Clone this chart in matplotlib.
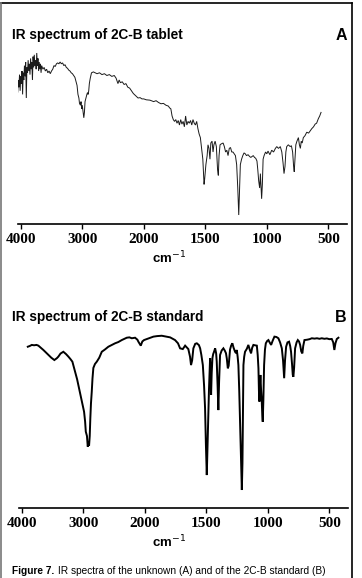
import numpy as np
import matplotlib
matplotlib.use('Agg')
import matplotlib.pyplot as plt
from matplotlib.lines import Line2D

# spectrum A: 2C-B tablet (wavenumber, %T)
wn_a = [4076, 4060, 4050, 4040, 4030, 4020, 4010, 4000, 3990, 3980,
        3970, 3960, 3950, 3940, 3930, 3920, 3910, 3900, 3890, 3880,
        3870, 3860, 3850, 3840, 3830, 3820, 3810, 3800, 3790, 3780,
        3770, 3760, 3750, 3740, 3730, 3720, 3710, 3700, 3690, 3680,
        3670, 3660, 3640, 3620, 3600, 3580, 3560, 3540, 3520, 3500,
        3480, 3460, 3440, 3420, 3400, 3380, 3360, 3340, 3320, 3300,
        3280, 3260, 3240, 3220, 3200, 3180, 3160, 3140, 3120, 3100,
        3085, 3070, 3055, 3045, 3030, 3020, 3010, 3000, 2990, 2975,
        2965, 2955, 2940, 2925, 2915, 2905, 2895, 2885, 2870, 2850,
        2820, 2790, 2760, 2720, 2680, 2640, 2600, 2560, 2520, 2480,
        2450, 2420, 2400, 2380, 2350, 2320, 2290, 2260, 2230, 2200,
        2170, 2140, 2110, 2093, 2060, 2030, 2000, 1980, 1950, 1920,
        1900, 1880, 1860, 1840, 1820, 1800, 1790, 1780, 1770, 1760,
        1750, 1740, 1730, 1720, 1710, 1700, 1690, 1680, 1670, 1660,
        1650, 1640, 1630, 1620, 1610, 1600, 1590, 1580, 1570, 1560,
        1550, 1540, 1530, 1520, 1510, 1505, 1495, 1485, 1478, 1470,
        1462, 1455, 1445, 1437, 1430, 1420, 1410, 1400, 1394, 1388,
        1380, 1370, 1355, 1345, 1335, 1325, 1315, 1305, 1295, 1285,
        1275, 1265, 1255, 1245, 1236, 1228, 1222, 1215, 1205, 1195,
        1185, 1175, 1165, 1152, 1140, 1130, 1120, 1110, 1100, 1090,
        1080, 1073, 1066, 1058, 1052, 1042, 1036, 1030, 1022, 1010,
        1000, 990, 975, 960, 945, 930, 919, 905, 890, 878,
        868, 860, 852, 845, 838, 825, 810, 800, 790, 782,
        777, 771, 764, 755, 743, 735, 727, 720, 712, 703,
        690, 675, 660, 645, 634, 620, 607, 595, 581, 570, 559]
t_a = [75, 79, 73, 80, 76, 83, 74, 82, 78, 85,
       72, 84, 80, 88, 82, 90, 70, 87, 84, 91,
       85, 89, 83, 92, 86, 90, 80, 93, 87, 94,
       88, 91, 86, 95, 88, 92, 85, 90, 86, 89,
       84, 88, 86, 87, 85, 86, 84, 85, 83.5, 85,
       86, 88, 87.5, 89, 89.5, 89, 90, 89, 89.5, 88,
       88.5, 87, 86.5, 85.5, 85, 84, 83.5, 82.5, 81.5, 79,
       77, 72, 70, 67, 66, 68, 64, 66, 63, 59,
       62, 68, 70, 72, 73, 72, 74, 78, 81, 84,
       84.5, 84, 83.5, 84, 83, 83.5, 82.5, 83, 82, 82.5,
       81, 78, 80, 78.5, 79, 77.5, 78, 76, 75.5, 74,
       72.5, 71.5, 70.5, 70, 70.2, 69.5, 69.5, 69, 68.8, 68,
       68.5, 67.5, 66.8, 67, 66, 65.5, 64.5, 64, 60, 58,
       57, 58, 56, 57.5, 55, 58, 55.5, 57, 54, 60,
       55, 57, 56, 57.5, 55, 58, 56, 55, 57, 53,
       50, 48, 42, 36, 22, 25, 33, 38, 44, 42,
       36, 45, 46, 40, 44, 46, 43, 30, 27, 38,
       44, 44.5, 45, 43, 40, 41, 38, 42, 42.5, 40,
       40, 39, 38, 33, 20, 5, 18, 33, 36, 38,
       39.5, 39, 38, 38.5, 37.5, 37, 37.5, 38, 37, 36.5,
       35, 30, 24, 20, 28, 14, 22, 36, 38, 40,
       39, 40.5, 38.5, 41, 40, 42, 43, 42, 43, 40,
       34, 28, 32, 40, 43, 44, 43, 43.5, 40, 32,
       29, 36, 44, 46, 48, 44, 42, 46, 45, 48,
       49, 51, 50.5, 52, 53, 54, 55.5, 56, 58.5, 60, 62]

# spectrum B: 2C-B standard
wn_b = [3902, 3870, 3837, 3800, 3760, 3730, 3690, 3649, 3610, 3567,
        3520, 3470, 3430, 3405, 3370, 3324, 3280, 3242, 3210, 3177,
        3133, 3100, 3080, 3050, 3024, 3000, 2987, 2970, 2959, 2940,
        2927, 2915, 2906, 2895, 2885, 2875, 2862, 2850, 2836, 2810,
        2780, 2740, 2699, 2650, 2592, 2540, 2483, 2430, 2374, 2330,
        2293, 2250, 2211, 2158, 2120, 2104, 2080, 2065, 2040, 2012,
        1970, 1930, 1900, 1862, 1830, 1794, 1754, 1730, 1713, 1691,
        1672, 1646, 1632, 1624, 1615, 1605, 1590, 1577, 1560, 1550,
        1540, 1528, 1518, 1510, 1503, 1496, 1490, 1483, 1478, 1475,
        1469, 1465, 1461, 1456, 1450, 1444, 1437, 1428, 1420, 1415,
        1408, 1402, 1396, 1388, 1375, 1361, 1350, 1340, 1333, 1325,
        1318, 1312, 1307, 1298, 1288, 1278, 1266, 1258, 1252, 1245,
        1239, 1232, 1225, 1218, 1211, 1206, 1203, 1198, 1192, 1185,
        1170, 1158, 1147, 1136, 1127, 1117, 1105, 1089, 1082, 1076,
        1072, 1068, 1064, 1060, 1055, 1049, 1045, 1041, 1036, 1030,
        1023, 1016, 1005, 995, 985, 973, 960, 946, 930, 914,
        900, 886, 876, 867, 860, 851, 840, 827, 818, 811,
        803, 797, 792, 786, 778, 766, 756, 746, 737, 728,
        719, 712, 702, 680, 660, 642, 620, 600, 580, 561,
        540, 520, 500, 480, 468, 459, 450, 439, 426]
t_b = [89.6, 90, 90.6, 90.4, 90.6, 90.2, 89, 87.8, 86.5, 85,
       83.5, 82.2, 83.2, 84.1, 85.8, 86.8, 85.5, 84.1, 82.8, 81.3,
       75.7, 71.5, 68.3, 63.5, 59.1, 55.5, 53.5, 48, 42.4, 40,
       34.1, 37, 34.5, 40, 50, 58, 64.6, 72, 77.8, 80,
       81.3, 83.5, 86.8, 88, 89.6, 90.5, 91.5, 92.2, 93.3, 94,
       94.6, 94.8, 94.3, 94.6, 93.5, 92.4, 91, 90.2, 92.5, 93.3,
       94.2, 95.2, 95.5, 95.7, 95.3, 94.8, 93.3, 91.5, 88.7, 88.3,
       90.2, 88.3, 84, 79.4, 82, 88.7, 91.2, 91.5, 90.5, 88.7,
       85, 79.4, 68, 55.6, 35, 18.3, 35, 55.6, 66, 72.2,
       83.3, 76, 62.8, 75, 83.3, 85.5, 86.8, 88.7, 86, 81.3,
       68, 54.4, 70, 85, 87.5, 88.7, 87.5, 86, 83, 77.6,
       79, 84, 88, 90.2, 91.5, 89, 86.8, 86, 87.8, 84,
       79.4, 65, 46.1, 25, 10, 25, 46.1, 79.4, 84, 86.8,
       88.5, 90.6, 88, 85.9, 89, 90.6, 90.4, 90.2, 85, 77.6,
       65, 59.1, 68, 73.9, 66, 59.1, 52, 47.9, 60, 79.4,
       88, 91.5, 92.8, 93.3, 92, 90.6, 93, 95.2, 95, 94.3,
       92, 88.7, 82, 72.1, 82, 89.6, 92, 92.4, 90, 86.8,
       80, 74, 72.9, 78, 88.7, 92, 93.3, 92.5, 90.6, 87,
       85.9, 90, 93.3, 93.5, 93.8, 94.3, 94.1, 94.3, 94, 94.3,
       94, 94.2, 93.8, 93.9, 92, 87.8, 91.5, 93.9, 94.6]

tick_wn = [4000, 3000, 2000, 1500, 1000, 500]
tick_labels = ['4000', '3000', '2000', '1500', '1000', '500']

W, H = 362, 578
fig = plt.figure(figsize=(W / 100, H / 100), dpi=100)


def fx(px):
    return px / W


def fy(py):
    return 1 - py / H


# IR charts: the range above 2000 cm-1 is drawn at half scale
def fwd(w):
    w = np.asarray(w, float)
    return np.where(w > 2000, 2000 + (w - 2000) / 2, w)


def inv(x):
    x = np.asarray(x, float)
    return np.where(x > 2000, 2000 + 2 * (x - 2000), x)


def panel(left_px, bottom_px, wn, tr, lw, color, title, letter, title_y):
    ax = fig.add_axes([fx(left_px), fy(bottom_px), 328.7 / W, 180 / H])
    ax.set_xscale('function', functions=(fwd, inv))
    ax.plot(wn, tr, color=color, lw=lw, solid_joinstyle='miter')
    ax.set_xlim(4040, 348)
    ax.set_ylim(0, 100)
    for s in ('top', 'left', 'right'):
        ax.spines[s].set_visible(False)
    ax.spines['bottom'].set_linewidth(1.2)
    ax.set_yticks([])
    ax.set_xticks(tick_wn)
    ax.set_xticklabels(tick_labels, fontfamily='Liberation Serif',
                       fontweight='bold', fontsize=11)
    ax.tick_params(axis='x', direction='out', length=3.8, width=1, pad=3)
    ax.minorticks_off()
    ax.patch.set_alpha(0)

    fig.text(fx(12), fy(title_y), title, ha='left', va='center',
             family='Liberation Sans', weight='bold', fontsize=9.8)
    fig.text(fx(347), fy(title_y), letter, ha='right', va='center',
             family='Liberation Sans', weight='bold', fontsize=11.5)
    fig.text(fx(169), fy(bottom_px + 34), r'cm$^{-1}$', ha='center',
             va='center', family='Liberation Sans', weight='bold',
             fontsize=9.5)
    return ax


panel(18.3, 224, wn_a, t_a, 0.7, '#1a1a1a', 'IR spectrum of 2C-B tablet', 'A', 35)
panel(19.3, 508, wn_b, t_b, 1.4, 'black', 'IR spectrum of 2C-B standard', 'B', 317.5)

# page frame
fig.add_artist(Line2D([fx(1), fx(352)], [fy(3), fy(3)], color='black',
                      lw=1.2, transform=fig.transFigure))
fig.add_artist(Line2D([fx(352), fx(352)], [fy(3), fy(590)], color='black',
                      lw=1.2, transform=fig.transFigure))
fig.add_artist(Line2D([fx(1), fx(1)], [fy(3), fy(590)], color='#777777',
                      lw=1.2, transform=fig.transFigure))

# caption at the bottom edge
fig.text(fx(12), fy(576.5), 'Figure 7.', ha='left', va='bottom',
         family='Liberation Sans', weight='bold', fontsize=7.3)
fig.text(fx(58), fy(576.5), 'IR spectra of the unknown (A) and of the 2C-B standard (B)',
         ha='left', va='bottom', family='Liberation Sans', fontsize=7.3)

fig.savefig('out.png', dpi=100)
